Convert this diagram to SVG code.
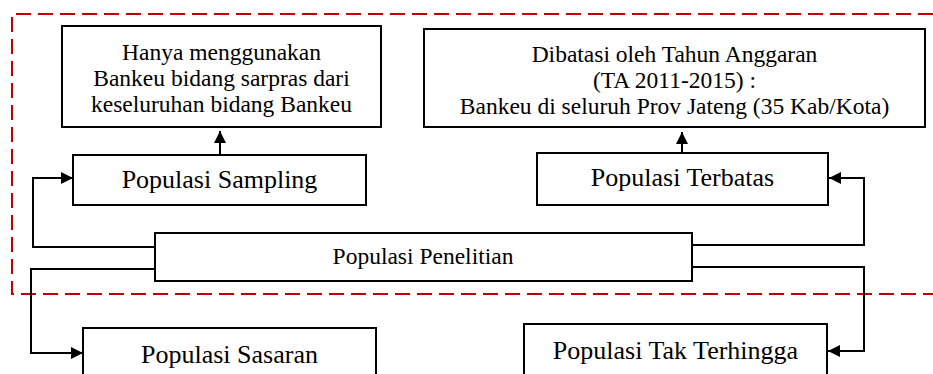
<svg xmlns="http://www.w3.org/2000/svg" width="933" height="374" viewBox="0 0 933 374">
<style>
.box{fill:#fff;stroke:#000;stroke-width:2}
.t{font-family:"Liberation Serif","Times New Roman",serif;fill:#000;text-anchor:middle}
.s{font-size:23.5px}
.l{font-size:26px}
.c{fill:none;stroke:#000;stroke-width:2}
.dash{fill:none;stroke:#C00000;stroke-width:2;stroke-dasharray:15 7}
</style>
<defs>
<marker id="ah" viewBox="0 0 12 12" refX="12" refY="6" markerWidth="12" markerHeight="12" markerUnits="userSpaceOnUse" orient="auto">
<path d="M0,0 L12,6 L0,12 Z" fill="#000"/>
</marker>
<clipPath id="clip1"><rect x="62" y="26" width="319" height="93"/></clipPath>
<clipPath id="clip2"><rect x="424" y="29" width="501" height="91"/></clipPath>
</defs>
<path class="dash" d="M933,14 L12,14 L12,294 L933,294"/>
<g id="connectors">
<path class="c" d="M155,247 L33,247 L33,178 L73,178" marker-end="url(#ah)"/>
<path class="c" d="M155,269 L31,269 L31,353 L83,353" marker-end="url(#ah)"/>
<path class="c" d="M692,245 L864,245 L864,178 L829,178" marker-end="url(#ah)"/>
<path class="c" d="M692,267 L864,267 L864,351 L828,351" marker-end="url(#ah)"/>
<path class="c" d="M220,155 L220,131" marker-end="url(#ah)"/>
<path class="c" d="M682,153 L682,132" marker-end="url(#ah)"/>
</g>
<g id="hanya">
<rect class="box" x="62" y="26" width="319" height="101"/>
<g clip-path="url(#clip1)">
<text class="t s" x="221.5" y="60">Hanya menggunakan</text>
<text class="t s" x="221.5" y="86">Bankeu bidang sarpras dari</text>
<text class="t s" x="221.5" y="112">keseluruhan bidang Bankeu</text>
</g>
</g>
<g id="dibatasi">
<rect class="box" x="424" y="29" width="501" height="98"/>
<g clip-path="url(#clip2)">
<text class="t s" x="674.5" y="62">Dibatasi oleh Tahun Anggaran</text>
<text class="t s" x="674.5" y="88">(TA 2011-2015) :</text>
<text class="t s" x="674.5" y="114">Bankeu di seluruh Prov Jateng (35 Kab/Kota)</text>
</g>
</g>
<g id="sampling">
<rect class="box" x="73" y="155" width="293" height="50"/>
<text class="t l" x="219.5" y="188">Populasi Sampling</text>
</g>
<g id="terbatas">
<rect class="box" x="537" y="153" width="291" height="52"/>
<text class="t l" x="682.5" y="186">Populasi Terbatas</text>
</g>
<g id="penelitian">
<rect class="box" x="155" y="233" width="537" height="48"/>
<text class="t s" x="423" y="264">Populasi Penelitian</text>
</g>
<g id="sasaran">
<rect class="box" x="83" y="328" width="293" height="60"/>
<text class="t l" x="229.5" y="363">Populasi Sasaran</text>
</g>
<g id="takterhingga">
<rect class="box" x="524" y="324" width="303" height="64"/>
<text class="t l" x="675.5" y="359">Populasi Tak Terhingga</text>
</g>
</svg>
